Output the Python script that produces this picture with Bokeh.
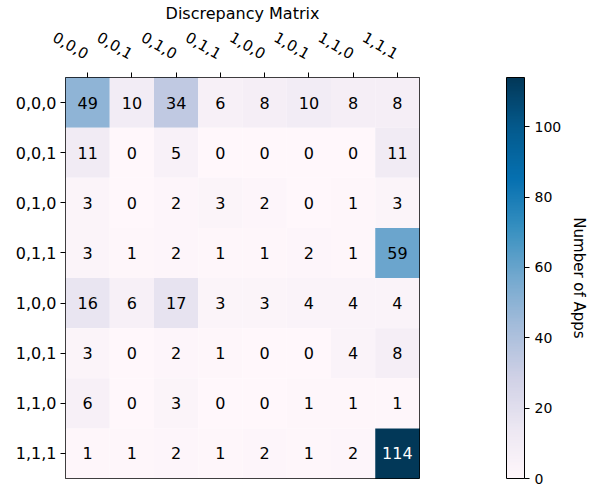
import numpy as np
from bokeh.plotting import figure
from bokeh.models import ColumnDataSource, LinearColorMapper, ColorBar, FixedTicker, Title
from bokeh.core.properties import value
from bokeh.embed import file_html
from bokeh.resources import INLINE

# State labels (rows: first version, columns: second version)
labels = ["0,0,0", "0,0,1", "0,1,0", "0,1,1", "1,0,0", "1,0,1", "1,1,0", "1,1,1"]

row_000 = [49, 10, 34, 6, 8, 10, 8, 8]
row_001 = [11, 0, 5, 0, 0, 0, 0, 11]
row_010 = [3, 0, 2, 3, 2, 0, 1, 3]
row_011 = [3, 1, 2, 1, 1, 2, 1, 59]
row_100 = [16, 6, 17, 3, 3, 4, 4, 4]
row_101 = [3, 0, 2, 1, 0, 0, 4, 8]
row_110 = [6, 0, 3, 0, 0, 1, 1, 1]
row_111 = [1, 1, 2, 1, 2, 1, 2, 114]
counts = [row_000, row_001, row_010, row_011, row_100, row_101, row_110, row_111]

cbar_ticks = [0, 20, 40, 60, 80, 100]

FONT = "DejaVu Sans"

# PuBu ramp stretched to 256 steps
pubu_stops = ["#fff7fb", "#ece7f2", "#d0d1e6", "#a6bddb", "#74a9cf",
              "#3690c0", "#0570b0", "#045a8d", "#023858"]
stops_rgb = np.array([[int(h[i:i + 2], 16) for i in (1, 3, 5)] for h in pubu_stops], float)
pos = np.linspace(0, 1, len(pubu_stops))
t = np.linspace(0, 1, 256)
ramp = np.stack([np.interp(t, pos, stops_rgb[:, k]) for k in range(3)], axis=1)
palette = ["#%02x%02x%02x" % tuple(int(round(c)) for c in rgb) for rgb in ramp]

vmax = max(max(r) for r in counts)
mapper = LinearColorMapper(palette=palette, low=0, high=vmax)

xs, ys, vals, txt, tcol = [], [], [], [], []
for i, row in enumerate(counts):
    for j, v in enumerate(row):
        xs.append(labels[j])
        ys.append(labels[i])
        vals.append(v)
        txt.append(str(v))
        tcol.append("white" if v > 0.7 * vmax else "black")
src = ColumnDataSource(dict(x=xs, y=ys, v=vals, t=txt, c=tcol))

TOP, BOTTOM = 77, 10
p = figure(width=595, height=488, x_range=labels, y_range=list(reversed(labels)),
           x_axis_location="above", output_backend="svg", toolbar_location=None,
           min_border_left=65, min_border_top=TOP, min_border_bottom=BOTTOM,
           min_border_right=176, title="Discrepancy Matrix")

p.rect(x="x", y="y", width=1, height=1, source=src,
       fill_color={"field": "v", "transform": mapper}, line_color=None)
p.text(x="x", y="y", text="t", source=src, text_align="center", text_baseline="middle",
       text_color="c", text_font=value(FONT), text_font_size="16px")

p.title.align = "center"
p.title.text_font = FONT
p.title.text_font_size = "16px"
p.title.text_font_style = "normal"
p.title.text_color = "black"
p.title.standoff = 0

p.grid.visible = False
p.outline_line_color = "black"
p.outline_line_width = 1
for ax in (p.xaxis, p.yaxis):
    ax.axis_line_color = None
    ax.major_tick_out = 5
    ax.major_tick_in = 0
    ax.major_tick_line_color = "black"
    ax.major_label_text_font = FONT
    ax.major_label_text_font_size = "16px"
    ax.major_label_text_color = "black"
    ax.major_label_standoff = 4
p.xaxis.major_label_text_font_size = "15px"
p.xaxis.major_label_orientation = -np.pi / 6
p.xaxis.major_label_standoff = 18

cbar = ColorBar(color_mapper=mapper, ticker=FixedTicker(ticks=cbar_ticks),
                width=18, height=488 - TOP - BOTTOM, margin=0, padding=0,
                location=(87, 0),
                bar_line_color="black", border_line_color=None,
                major_tick_in=0, major_tick_out=5, major_tick_line_color="black",
                minor_tick_line_color=None,
                major_label_text_font=FONT, major_label_text_font_size="14px",
                major_label_text_color="black", label_standoff=5)
p.add_layout(cbar, "right")
p.add_layout(Title(text="Number of Apps", align="center", text_font=FONT,
                   text_font_size="15px", text_font_style="normal",
                   text_color="black"), "right")

open("out.html", "w").write(file_html(p, INLINE))
